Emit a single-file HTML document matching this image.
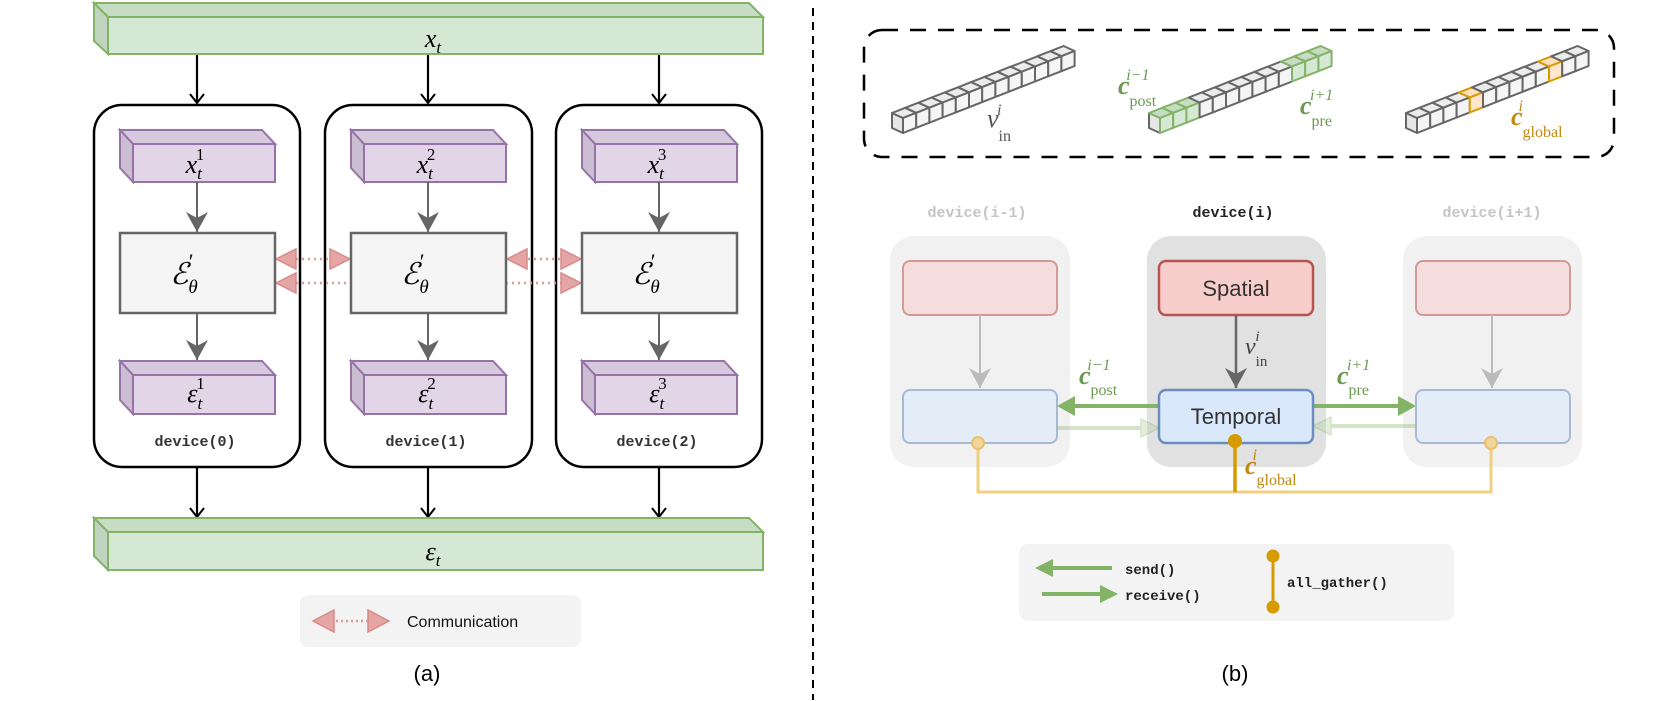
<!DOCTYPE html>
<html><head><meta charset="utf-8"><style>
html,body{margin:0;padding:0;background:#fff;}
svg{display:block;}
.m{font-family:"Liberation Serif",serif;font-style:italic;}
.r{font-family:"Liberation Serif",serif;}
.mono{font-family:"Liberation Mono",monospace;font-weight:bold;}
.sans{font-family:"Liberation Sans",sans-serif;}
</style></head><body>
<svg width="1661" height="701" viewBox="0 0 1661 701" xmlns="http://www.w3.org/2000/svg">
<defs>
<marker id="open" markerWidth="20" markerHeight="20" refX="10" refY="10" orient="auto" markerUnits="userSpaceOnUse">
<path d="M1,3 L10,10 L1,17" fill="none" stroke="#000" stroke-width="2"/></marker>
<marker id="gray" markerWidth="24" markerHeight="24" refX="20" refY="11" orient="auto" markerUnits="userSpaceOnUse">
<path d="M0,0 L20,11 L0,22 L6,11 Z" fill="#666"/></marker>
<marker id="grayf" markerWidth="24" markerHeight="24" refX="20" refY="11" orient="auto" markerUnits="userSpaceOnUse">
<path d="M0,0 L20,11 L0,22 L6,11 Z" fill="#bbb"/></marker>
</defs>

<!-- ============ LEFT (a) ============ -->
<!-- top bar -->
<polygon points="94,3 749,3 763,17 108,17" fill="#c6dcc5" stroke="#82b366" stroke-width="2"/>
<polygon points="94,3 108,17 108,54 94,41" fill="#c0d4bf" stroke="#82b366" stroke-width="2"/>
<rect x="108" y="17" width="655" height="37" fill="#d5e8d4" stroke="#82b366" stroke-width="2"/>
<text x="433" y="47" class="m" font-size="26" text-anchor="middle">x<tspan font-size="17" dy="6">t</tspan></text>

<!-- arrows top -->
<g stroke="#000" stroke-width="2.2" marker-end="url(#open)">
<line x1="197" y1="55" x2="197" y2="103"/><line x1="428" y1="55" x2="428" y2="103"/><line x1="659" y1="55" x2="659" y2="103"/>
<line x1="197" y1="467" x2="197" y2="517"/><line x1="428" y1="467" x2="428" y2="517"/><line x1="659" y1="467" x2="659" y2="517"/>
</g>

<!-- device boxes -->
<g fill="#fff" stroke="#000" stroke-width="2.5">
<rect x="94" y="105" width="206" height="362" rx="28"/>
<rect x="325" y="105" width="207" height="362" rx="28"/>
<rect x="556" y="105" width="206" height="362" rx="28"/>
</g>

<!-- comm arrows (behind boxes) -->
<g stroke="#e09a9a" stroke-width="2.5" stroke-dasharray="2,4">
<line x1="290" y1="259" x2="336" y2="259"/>
<line x1="290" y1="283" x2="566" y2="283"/>
<line x1="522" y1="259" x2="566" y2="259"/>
</g>
<g fill="#e5a5a5" stroke="#d88a8a" stroke-width="1.5">
<polygon points="276,259 296,249 296,269"/><polygon points="350,259 330,249 330,269"/>
<polygon points="276,283 296,273 296,293"/><polygon points="581,283 561,273 561,293"/>
<polygon points="507,259 527,249 527,269"/><polygon points="581,259 561,249 561,269"/>
</g>

<!-- purple & encoder per device -->
<g id="dev">
</g>
<!-- device 0 -->
<g>
<polygon points="120,130 262,130 275,144 133,144" fill="#d6c8dd" stroke="#9673a6" stroke-width="2"/>
<polygon points="120,130 133,144 133,182 120,168" fill="#cbbdd2" stroke="#9673a6" stroke-width="2"/>
<rect x="133" y="144" width="142" height="38" fill="#e1d5e7" stroke="#9673a6" stroke-width="2"/>
<text x="195" y="173" class="m" font-size="26" text-anchor="middle">x<tspan font-size="17" dy="6">t</tspan><tspan font-size="17" dx="-6" dy="-19" style="font-style:normal">1</tspan></text>
<line x1="197" y1="182" x2="197" y2="232" stroke="#666" stroke-width="2" marker-end="url(#gray)"/>
<line x1="197" y1="313" x2="197" y2="360" stroke="#666" stroke-width="2" marker-end="url(#gray)"/>
<polygon points="120,361 262,361 275,375 133,375" fill="#d6c8dd" stroke="#9673a6" stroke-width="2"/>
<polygon points="120,361 133,375 133,414 120,400" fill="#cbbdd2" stroke="#9673a6" stroke-width="2"/>
<rect x="133" y="375" width="142" height="39" fill="#e1d5e7" stroke="#9673a6" stroke-width="2"/>
<text x="196" y="402" class="m" font-size="26" text-anchor="middle">ε<tspan font-size="17" dy="7">t</tspan><tspan font-size="17" dx="-6" dy="-20" style="font-style:normal">1</tspan></text>
<text x="195" y="446" class="mono" font-size="15" fill="#333" text-anchor="middle">device(0)</text>
</g>
<!-- device 1 -->
<g transform="translate(231,0)">
<polygon points="120,130 262,130 275,144 133,144" fill="#d6c8dd" stroke="#9673a6" stroke-width="2"/>
<polygon points="120,130 133,144 133,182 120,168" fill="#cbbdd2" stroke="#9673a6" stroke-width="2"/>
<rect x="133" y="144" width="142" height="38" fill="#e1d5e7" stroke="#9673a6" stroke-width="2"/>
<text x="195" y="173" class="m" font-size="26" text-anchor="middle">x<tspan font-size="17" dy="6">t</tspan><tspan font-size="17" dx="-6" dy="-19" style="font-style:normal">2</tspan></text>
<line x1="197" y1="182" x2="197" y2="232" stroke="#666" stroke-width="2" marker-end="url(#gray)"/>
<line x1="197" y1="313" x2="197" y2="360" stroke="#666" stroke-width="2" marker-end="url(#gray)"/>
<polygon points="120,361 262,361 275,375 133,375" fill="#d6c8dd" stroke="#9673a6" stroke-width="2"/>
<polygon points="120,361 133,375 133,414 120,400" fill="#cbbdd2" stroke="#9673a6" stroke-width="2"/>
<rect x="133" y="375" width="142" height="39" fill="#e1d5e7" stroke="#9673a6" stroke-width="2"/>
<text x="196" y="402" class="m" font-size="26" text-anchor="middle">ε<tspan font-size="17" dy="7">t</tspan><tspan font-size="17" dx="-6" dy="-20" style="font-style:normal">2</tspan></text>
<text x="195" y="446" class="mono" font-size="15" fill="#333" text-anchor="middle">device(1)</text>
</g>
<!-- device 2 -->
<g transform="translate(462,0)">
<polygon points="120,130 262,130 275,144 133,144" fill="#d6c8dd" stroke="#9673a6" stroke-width="2"/>
<polygon points="120,130 133,144 133,182 120,168" fill="#cbbdd2" stroke="#9673a6" stroke-width="2"/>
<rect x="133" y="144" width="142" height="38" fill="#e1d5e7" stroke="#9673a6" stroke-width="2"/>
<text x="195" y="173" class="m" font-size="26" text-anchor="middle">x<tspan font-size="17" dy="6">t</tspan><tspan font-size="17" dx="-6" dy="-19" style="font-style:normal">3</tspan></text>
<line x1="197" y1="182" x2="197" y2="232" stroke="#666" stroke-width="2" marker-end="url(#gray)"/>
<line x1="197" y1="313" x2="197" y2="360" stroke="#666" stroke-width="2" marker-end="url(#gray)"/>
<polygon points="120,361 262,361 275,375 133,375" fill="#d6c8dd" stroke="#9673a6" stroke-width="2"/>
<polygon points="120,361 133,375 133,414 120,400" fill="#cbbdd2" stroke="#9673a6" stroke-width="2"/>
<rect x="133" y="375" width="142" height="39" fill="#e1d5e7" stroke="#9673a6" stroke-width="2"/>
<text x="196" y="402" class="m" font-size="26" text-anchor="middle">ε<tspan font-size="17" dy="7">t</tspan><tspan font-size="17" dx="-6" dy="-20" style="font-style:normal">3</tspan></text>
<text x="195" y="446" class="mono" font-size="15" fill="#333" text-anchor="middle">device(2)</text>
</g>

<!-- encoders (over dotted lines) -->
<g fill="#f5f5f5" stroke="#666" stroke-width="2.5">
<rect x="120" y="233" width="155" height="80"/>
<rect x="351" y="233" width="155" height="80"/>
<rect x="582" y="233" width="155" height="80"/>
</g>
<g class="m" font-size="30">
<text x="184" y="284" text-anchor="middle">ℰ<tspan font-size="19" dy="9">θ</tspan><tspan font-size="22" dx="-9" dy="-24" style="font-style:normal">′</tspan></text>
<text x="415" y="284" text-anchor="middle">ℰ<tspan font-size="19" dy="9">θ</tspan><tspan font-size="22" dx="-9" dy="-24" style="font-style:normal">′</tspan></text>
<text x="646" y="284" text-anchor="middle">ℰ<tspan font-size="19" dy="9">θ</tspan><tspan font-size="22" dx="-9" dy="-24" style="font-style:normal">′</tspan></text>
</g>

<!-- bottom bar -->
<polygon points="94,518 749,518 763,532 108,532" fill="#c6dcc5" stroke="#82b366" stroke-width="2"/>
<polygon points="94,518 108,532 108,570 94,556" fill="#c0d4bf" stroke="#82b366" stroke-width="2"/>
<rect x="108" y="532" width="655" height="38" fill="#d5e8d4" stroke="#82b366" stroke-width="2"/>
<text x="433" y="560" class="m" font-size="26" text-anchor="middle">ε<tspan font-size="17" dy="6">t</tspan></text>

<!-- legend a -->
<rect x="300" y="595" width="281" height="52" rx="8" fill="#f3f3f3"/>
<line x1="326" y1="621" x2="374" y2="621" stroke="#e09a9a" stroke-width="2.5" stroke-dasharray="2,3"/>
<polygon points="313,621 334,610 334,632" fill="#e5a5a5" stroke="#d88a8a" stroke-width="1.5"/>
<polygon points="389,621 368,610 368,632" fill="#e5a5a5" stroke="#d88a8a" stroke-width="1.5"/>
<text x="407" y="627" class="sans" font-size="16" fill="#111">Communication</text>
<text x="427" y="681" class="sans" font-size="22" text-anchor="middle">(a)</text>

<!-- divider -->
<line x1="813" y1="8" x2="813" y2="700" stroke="#000" stroke-width="2" stroke-dasharray="8,6"/>

<!-- ============ RIGHT (b) ============ -->
<rect x="864" y="30" width="750" height="127" rx="18" fill="none" stroke="#000" stroke-width="2.5" stroke-dasharray="16,12"/>

<g id="bars" stroke="#666" stroke-width="2" stroke-linejoin="round"></g>
<script>
(function(){
var ns="http://www.w3.org/2000/svg",g=document.getElementById('bars');
function poly(pts,fill,stroke){var p=document.createElementNS(ns,'polygon');p.setAttribute('points',pts.map(function(a){return a[0].toFixed(1)+','+a[1].toFixed(1)}).join(' '));p.setAttribute('fill',fill);if(stroke)p.setAttribute('stroke',stroke);g.appendChild(p);}
function bar(x0,y0,colors){
 var w=13.2,s=5.15,h=15,dx=-11,dy=-5;
 // left end cap
 poly([[x0,y0],[x0,y0-h],[x0+dx,y0-h+dy],[x0+dx,y0+dy]],'#e6e6e6','#666');
 for(var i=0;i<13;i++){
  var c=colors[i]||'n';
  var fill=c=='g'?'#d5e8d4':(c=='o'?'#ffe6cc':'#f5f5f5');
  var top=c=='g'?'#c6dcc5':(c=='o'?'#ffe0c0':'#ececec');
  var st=c=='g'?'#82b366':(c=='o'?'#d79b00':'#666');
  var bx=x0+w*i,by=y0-s*i;
  poly([[bx,by-h],[bx+w,by-h-s],[bx+w+dx,by-h-s+dy],[bx+dx,by-h+dy]],top,st);
  poly([[bx,by],[bx+w,by-s],[bx+w,by-s-h],[bx,by-h]],fill,st);
 }
}
bar(903,133,{});
bar(1160,133,{0:'g',1:'g',2:'g',10:'g',11:'g',12:'g'});
bar(1417,133,{4:'o',10:'o'});
})();
</script>
<text x="987" y="127" class="m" font-size="26" fill="#555">v<tspan font-size="16" dy="14" style="font-style:normal">in</tspan><tspan font-size="16" dx="-14" dy="-26">i</tspan></text>
<text x="1118" y="94" class="m" font-size="26" fill="#6a9a50" font-weight="bold">c<tspan font-size="16" dy="12" style="font-style:normal;font-weight:normal">post</tspan><tspan font-size="16" dx="-30" dy="-26" style="font-weight:normal">i−1</tspan></text>
<text x="1300" y="114" class="m" font-size="26" fill="#6a9a50" font-weight="bold">c<tspan font-size="16" dy="12" style="font-style:normal;font-weight:normal">pre</tspan><tspan font-size="16" dx="-22" dy="-26" style="font-weight:normal">i+1</tspan></text>
<text x="1511" y="125" class="m" font-size="26" fill="#c08a10" font-weight="bold">c<tspan font-size="16" dy="12" style="font-style:normal;font-weight:normal">global</tspan><tspan font-size="16" dx="-44" dy="-26" style="font-weight:normal">i</tspan></text>

<!-- device labels -->
<text x="977" y="217" class="mono" font-size="15" fill="#c4c4c4" text-anchor="middle">device(i-1)</text>
<text x="1233" y="217" class="mono" font-size="15" fill="#222" text-anchor="middle">device(i)</text>
<text x="1492" y="217" class="mono" font-size="15" fill="#c4c4c4" text-anchor="middle">device(i+1)</text>

<!-- device backgrounds -->
<rect x="890" y="236" width="180" height="231" rx="24" fill="#f1f1f1"/>
<rect x="1147" y="236" width="179" height="231" rx="24" fill="#e1e1e1"/>
<rect x="1403" y="236" width="179" height="231" rx="24" fill="#f1f1f1"/>

<!-- gather line -->
<polyline points="978,443 978,492 1491,492 1491,443" fill="none" stroke="#f0d080" stroke-width="3"/>

<!-- faint side devices -->
<g opacity="0.55">
<rect x="903" y="261" width="154" height="54" rx="7" fill="#f8cecc" stroke="#b85450" stroke-width="2"/>
<rect x="903" y="390" width="154" height="53" rx="7" fill="#dae8fc" stroke="#6c8ebf" stroke-width="2"/>
<rect x="1416" y="261" width="154" height="54" rx="7" fill="#f8cecc" stroke="#b85450" stroke-width="2"/>
<rect x="1416" y="390" width="154" height="53" rx="7" fill="#dae8fc" stroke="#6c8ebf" stroke-width="2"/>
</g>
<line x1="980" y1="315" x2="980" y2="388" stroke="#bbb" stroke-width="2" marker-end="url(#grayf)"/>
<line x1="1492" y1="315" x2="1492" y2="388" stroke="#bbb" stroke-width="2" marker-end="url(#grayf)"/>
<circle cx="978" cy="443" r="6" fill="#f2d59a" stroke="#e8c070" stroke-width="2"/>
<circle cx="1491" cy="443" r="6" fill="#f2d59a" stroke="#e8c070" stroke-width="2"/>

<!-- faint receive arrows -->
<g opacity="0.35">
<line x1="1057" y1="428" x2="1145" y2="428" stroke="#82b366" stroke-width="4"/>
<polygon points="1159,428 1141,419 1141,437" fill="#b0d0a0" stroke="#82b366" stroke-width="1.5"/>
<line x1="1327" y1="426" x2="1416" y2="426" stroke="#82b366" stroke-width="4"/>
<polygon points="1313,426 1331,417 1331,435" fill="#b0d0a0" stroke="#82b366" stroke-width="1.5"/>
</g>

<!-- center device -->
<rect x="1159" y="261" width="154" height="54" rx="7" fill="#f8cecc" stroke="#b85450" stroke-width="2.5"/>
<text x="1236" y="296" class="sans" font-size="22" fill="#333" text-anchor="middle">Spatial</text>
<line x1="1236" y1="315" x2="1236" y2="388" stroke="#666" stroke-width="2.5" marker-end="url(#gray)"/>
<text x="1245" y="354" class="m" font-size="24" fill="#444">v<tspan font-size="15" dy="12" style="font-style:normal">in</tspan><tspan font-size="15" dx="-12" dy="-25">i</tspan></text>

<!-- send arrows -->
<line x1="1159" y1="406" x2="1072" y2="406" stroke="#82b366" stroke-width="4"/>
<polygon points="1057,406 1075,396 1075,416" fill="#82b366"/>
<line x1="1313" y1="406" x2="1400" y2="406" stroke="#82b366" stroke-width="4"/>
<polygon points="1416,406 1398,396 1398,416" fill="#82b366"/>
<text x="1079" y="384" class="m" font-size="26" fill="#6a9a50" font-weight="bold">c<tspan font-size="16" dy="11" style="font-style:normal;font-weight:normal">post</tspan><tspan font-size="16" dx="-30" dy="-25" style="font-weight:normal">i−1</tspan></text>
<text x="1337" y="384" class="m" font-size="26" fill="#6a9a50" font-weight="bold">c<tspan font-size="16" dy="11" style="font-style:normal;font-weight:normal">pre</tspan><tspan font-size="16" dx="-22" dy="-25" style="font-weight:normal">i+1</tspan></text>

<rect x="1159" y="390" width="154" height="53" rx="7" fill="#dae8fc" stroke="#6c8ebf" stroke-width="2.5"/>
<text x="1236" y="424" class="sans" font-size="22" fill="#333" text-anchor="middle">Temporal</text>
<line x1="1235" y1="441" x2="1235" y2="492" stroke="#d79b00" stroke-width="3.5"/>
<circle cx="1235" cy="441" r="7" fill="#d79b00"/>
<text x="1245" y="474" class="m" font-size="26" fill="#c08a10" font-weight="bold">c<tspan font-size="16" dy="11" style="font-style:normal;font-weight:normal">global</tspan><tspan font-size="16" dx="-44" dy="-25" style="font-weight:normal">i</tspan></text>

<!-- legend b -->
<rect x="1019" y="544" width="435" height="77" rx="9" fill="#f3f3f3"/>
<line x1="1047" y1="568" x2="1112" y2="568" stroke="#82b366" stroke-width="4"/>
<polygon points="1035,568 1053,559 1053,577" fill="#82b366"/>
<line x1="1042" y1="594" x2="1100" y2="594" stroke="#82b366" stroke-width="4"/>
<polygon points="1118,594 1100,585 1100,603" fill="#82b366"/>
<text x="1125" y="574" class="mono" font-size="14" fill="#222">send()</text>
<text x="1125" y="600" class="mono" font-size="14" fill="#222">receive()</text>
<line x1="1273" y1="556" x2="1273" y2="607" stroke="#d79b00" stroke-width="3"/>
<circle cx="1273" cy="556" r="6.5" fill="#d79b00"/>
<circle cx="1273" cy="607" r="6.5" fill="#d79b00"/>
<text x="1287" y="587" class="mono" font-size="14" fill="#222">all_gather()</text>
<text x="1235" y="681" class="sans" font-size="22" text-anchor="middle">(b)</text>
</svg>
</body></html>
